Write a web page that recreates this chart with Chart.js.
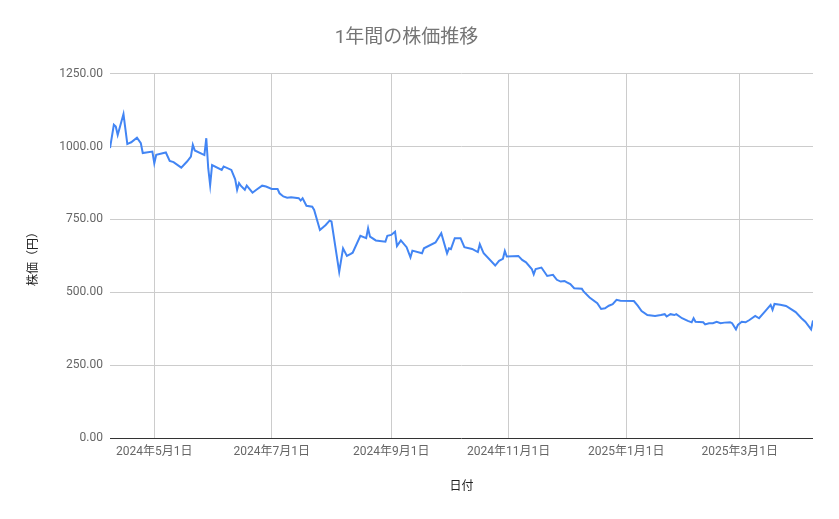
<!DOCTYPE html>
<html lang="ja">
<head>
<meta charset="utf-8">
<title>1年間の株価推移</title>
<script src="https://cdn.jsdelivr.net/npm/chart.js@4.4.1/dist/chart.umd.min.js"></script>
<style>
	html, body { margin: 0; padding: 0; background: #ffffff; }
	#chart { display: block; }
</style>
</head>
<body>
<canvas id="chart" width="839" height="519"></canvas>
<script>
// dates (roughly one point every few days)
const dates = [
	'2024-04-08', '2024-04-10', '2024-04-11', '2024-04-12', '2024-04-15', '2024-04-17', '2024-04-18', '2024-04-19', '2024-04-22', '2024-04-24', '2024-04-25', '2024-04-30',
	'2024-05-01', '2024-05-02', '2024-05-07', '2024-05-09', '2024-05-11', '2024-05-15', '2024-05-18', '2024-05-20', '2024-05-21', '2024-05-22', '2024-05-26', '2024-05-27', '2024-05-28', '2024-05-29', '2024-05-30', '2024-05-31',
	'2024-06-05', '2024-06-06', '2024-06-10', '2024-06-12', '2024-06-13', '2024-06-14', '2024-06-15', '2024-06-17', '2024-06-18', '2024-06-21', '2024-06-23', '2024-06-26', '2024-06-28',
	'2024-07-01', '2024-07-04', '2024-07-05', '2024-07-07', '2024-07-09', '2024-07-11', '2024-07-15', '2024-07-16', '2024-07-17', '2024-07-19', '2024-07-22', '2024-07-23', '2024-07-26', '2024-07-29', '2024-07-31',
	'2024-08-01', '2024-08-05', '2024-08-07', '2024-08-09', '2024-08-11', '2024-08-12', '2024-08-16', '2024-08-19', '2024-08-20', '2024-08-21', '2024-08-24', '2024-08-29', '2024-08-30',
	'2024-09-01', '2024-09-03', '2024-09-04', '2024-09-06', '2024-09-09', '2024-09-11', '2024-09-12', '2024-09-17', '2024-09-18', '2024-09-24', '2024-09-27', '2024-09-30',
	'2024-10-01', '2024-10-02', '2024-10-04', '2024-10-07', '2024-10-09', '2024-10-13', '2024-10-16', '2024-10-17', '2024-10-19', '2024-10-25', '2024-10-27', '2024-10-29', '2024-10-30', '2024-10-31',
	'2024-11-06', '2024-11-08', '2024-11-10', '2024-11-13', '2024-11-14', '2024-11-15', '2024-11-18', '2024-11-21', '2024-11-24', '2024-11-26', '2024-11-28', '2024-11-30',
	'2024-12-01', '2024-12-03', '2024-12-05', '2024-12-09', '2024-12-10', '2024-12-13', '2024-12-17', '2024-12-19', '2024-12-21', '2024-12-23', '2024-12-25', '2024-12-27', '2024-12-29',
	'2025-01-05', '2025-01-07', '2025-01-09', '2025-01-12', '2025-01-16', '2025-01-19', '2025-01-21', '2025-01-22', '2025-01-24', '2025-01-26', '2025-01-27', '2025-01-30',
	'2025-02-02', '2025-02-04', '2025-02-05', '2025-02-06', '2025-02-10', '2025-02-11', '2025-02-13', '2025-02-15', '2025-02-17', '2025-02-19', '2025-02-21', '2025-02-24', '2025-02-25', '2025-02-27', '2025-02-28',
	'2025-03-02', '2025-03-04', '2025-03-06', '2025-03-09', '2025-03-11', '2025-03-14', '2025-03-17', '2025-03-18', '2025-03-19', '2025-03-22', '2025-03-25', '2025-03-27', '2025-03-30',
	'2025-04-02', '2025-04-04', '2025-04-07', '2025-04-08'
];

// 株価 (円), same order as dates
const prices = [
	995, 1075, 1069, 1040, 1112, 1009, 1012, 1015, 1031, 1012, 978, 983,
	943, 972, 980, 951, 947, 928, 949, 966, 1006, 987, 974, 971, 1029, 926, 868, 937,
	920, 932, 920, 888, 852, 875, 865, 852, 866, 842, 852, 866, 863,
	855, 855, 840, 829, 825, 826, 823, 815, 823, 797, 794, 783, 714, 731, 746,
	743, 570, 651, 625, 632, 636, 694, 686, 720, 691, 678, 674, 694,
	697, 708, 659, 678, 655, 620, 643, 634, 651, 671, 703, 634,
	651, 648, 686, 686, 655, 649, 638, 665, 634, 592, 608, 615, 642, 623,
	625, 611, 603, 580, 562, 580, 585, 556, 560, 543, 537, 539,
	535, 528, 514, 512, 502, 482, 463, 443, 445, 454, 459, 474, 471,
	470, 454, 436, 422, 419, 422, 425, 417, 425, 422, 425, 411,
	402, 397, 411, 399, 397, 390, 394, 394, 399, 394, 396, 397, 394, 373, 388,
	399, 397, 405, 419, 411, 434, 457, 440, 460, 457, 453, 445, 432,
	411, 399, 373, 403
];

const tickDates = ['2024-05-01', '2024-07-01', '2024-09-01', '2024-11-01', '2025-01-01', '2025-03-01'];
const yTicks = [0, 250, 500, 750, 1000, 1250];

const startDate = '2024-04-08';
const endDate = '2025-04-08';

const FONT = 'Roboto, "Noto Sans CJK JP", sans-serif';

// no date adapter here, so the x axis is a plain number of days
function toDay(str) {
	const p = str.split('-').map(Number);
	return Date.UTC(p[0], p[1] - 1, p[2]) / 86400000;
}

function dayLabel(day) {
	const d = new Date(day * 86400000);
	return d.getUTCFullYear() + '年' + (d.getUTCMonth() + 1) + '月' + d.getUTCDate() + '日';
}

const points = dates.map((d, i) => ({ x: toDay(d), y: prices[i] }));

new Chart(document.getElementById('chart'), {
	type: 'line',
	data: {
		datasets: [{
			label: '株価',
			data: points,
			borderColor: '#4285f4',
			borderWidth: 2,
			pointRadius: 0,
			tension: 0,
			fill: false
		}]
	},
	options: {
		responsive: false,
		animation: false,
		layout: {
			padding: { left: 0, right: 26, top: 0, bottom: 0 }
		},
		plugins: {
			legend: { display: false },
			tooltip: { enabled: false },
			title: {
				display: true,
				text: '1年間の株価推移',
				color: '#757575',
				font: { family: FONT, size: 19, weight: 'normal' },
				padding: { top: 27, bottom: 24 }
			}
		},
		scales: {
			x: {
				type: 'linear',
				min: toDay(startDate),
				max: toDay(endDate),
				afterBuildTicks: (scale) => {
					scale.ticks = tickDates.map(d => ({ value: toDay(d) }));
				},
				afterFit: (scale) => {
					scale.height = 81;
				},
				ticks: {
					autoSkip: false,
					maxRotation: 0,
					padding: 7,
					color: '#666666',
					font: { family: FONT, size: 12 },
					callback: (value) => dayLabel(value)
				},
				grid: {
					color: '#cccccc',
					lineWidth: 1,
					drawTicks: false
				},
				border: { display: false },
				title: {
					display: true,
					text: '日付',
					color: '#222222',
					font: { family: FONT, size: 12 },
					padding: { top: 0, bottom: 25 }
				}
			},
			y: {
				min: 0,
				max: 1250,
				afterBuildTicks: (scale) => {
					scale.ticks = yTicks.map(v => ({ value: v }));
				},
				afterFit: (scale) => {
					scale.width = 110;
				},
				ticks: {
					padding: 7,
					color: '#666666',
					font: { family: FONT, size: 12 },
					callback: (value) => Number(value).toFixed(2)
				},
				grid: {
					// the zero line is drawn darker, like the baseline in the picture
					color: (ctx) => (ctx.tick && ctx.tick.value === 0) ? '#333333' : '#cccccc',
					lineWidth: 1,
					drawTicks: false
				},
				border: { display: false },
				title: {
					display: true,
					text: '株価（円）',
					color: '#222222',
					font: { family: FONT, size: 12 },
					padding: { top: 27, bottom: 0 }
				}
			}
		}
	}
});
</script>
</body>
</html>
